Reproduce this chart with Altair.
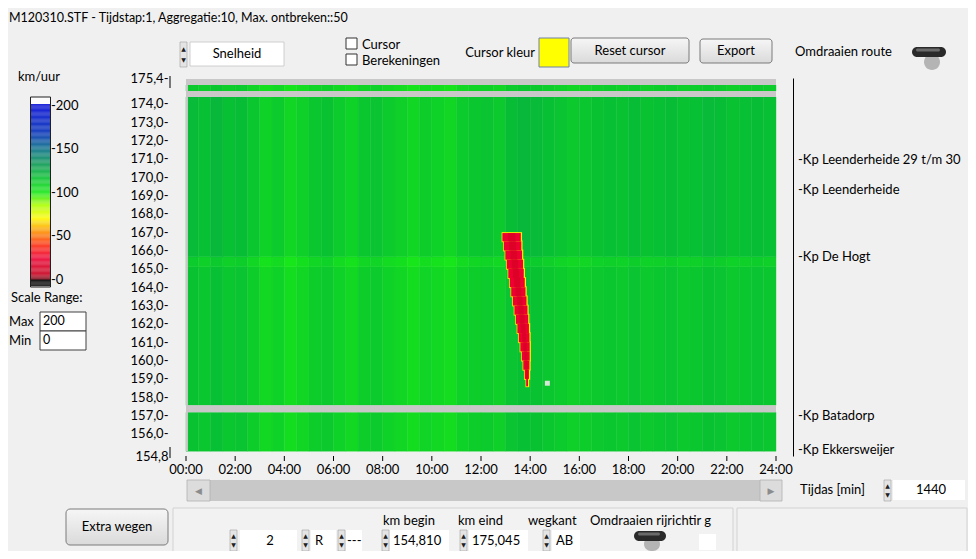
import altair as alt
import pandas as pd

# ---------------- values ----------------
TIME_BIN_START_H = [0.0, 0.5, 1.0, 1.5, 2.0, 2.5, 3.0, 3.5, 4.0, 4.5, 5.0, 5.5,
                    6.0, 6.5, 7.0, 7.5, 8.0, 8.5, 9.0, 9.5, 10.0, 10.5, 11.0, 11.5,
                    12.0, 12.5, 13.0, 13.5, 14.0, 14.5, 15.0, 15.5, 16.0, 16.5, 17.0, 17.5,
                    18.0, 18.5, 19.0, 19.5, 20.0, 20.5, 21.0, 21.5, 22.0, 22.5, 23.0, 23.5]
TIME_BIN_WIDTH_H = 0.5
STRIPE_SPEED = [117, 115, 118, 115, 116, 112, 107, 110, 105, 108,
                112, 114, 110, 107, 112, 113, 110, 108, 105, 109,
                107, 105, 110, 112, 113, 111, 116, 118, 117, 115,
                113, 111, 112, 114, 115, 114, 116, 114, 115, 116,
                114, 115, 117, 116, 114, 115, 116, 115]

BAND_KM_LO = [155.06, 157.56, 165.11, 165.66, 174.69]
BAND_KM_HI = [157.18, 165.11, 165.66, 174.37, 175.02]
BAND_SPEED_SHIFT = [0, 0, -4, 3, -3]

GAP_T0 = [0.0, 0.0, 0.0, 0.0]
GAP_T1 = [24.0, 24.0, 24.0, 0.08]
GAP_KM_LO = [157.18, 174.37, 175.02, 155.06]
GAP_KM_HI = [157.56, 174.69, 175.35, 175.35]

WEDGE_KM_HI = [166.95, 166.5, 166.0, 165.5, 165.0, 164.5, 164.0, 163.5, 163.0,
               162.5, 162.0, 161.5, 161.0, 160.5, 160.0, 159.5, 159.0]
WEDGE_KM_LO = [166.5, 166.0, 165.5, 165.0, 164.5, 164.0, 163.5, 163.0, 162.5,
               162.0, 161.5, 161.0, 160.5, 160.0, 159.5, 159.0, 158.6]
WEDGE_T0 = [12.87, 12.93, 12.99, 13.05, 13.11, 13.17, 13.23, 13.30, 13.36,
            13.42, 13.48, 13.54, 13.60, 13.66, 13.72, 13.78, 13.84]
WEDGE_T1 = [13.62, 13.64, 13.67, 13.71, 13.74, 13.78, 13.81, 13.85, 13.89,
            13.92, 13.95, 13.97, 13.98, 13.98, 13.97, 13.95, 13.91]
WEDGE_SPEED = 24
WEDGE_CORE_SPEED = 12
WEDGE_EDGE_SPEED = 68

MISSING_T0 = [14.6]
MISSING_T1 = [14.8]
MISSING_KM_LO = [158.63]
MISSING_KM_HI = [158.9]

LANDMARK_NAMES = ["-Kp Leenderheide 29 t/m 30", "-Kp Leenderheide", "-Kp De Hogt",
                  "-Kp Batadorp", "-Kp Ekkersweijer"]
LANDMARK_KM = [170.94, 169.30, 165.67, 156.96, 155.15]

Y_TICKS = [154.8, 156.0, 157.0, 158.0, 159.0, 160.0, 161.0, 162.0, 163.0, 164.0,
           165.0, 166.0, 167.0, 168.0, 169.0, 170.0, 171.0, 172.0, 173.0, 174.0, 175.4]
X_TICKS_H = [0, 2, 4, 6, 8, 10, 12, 14, 16, 18, 20, 22, 24]

CB_TICK_VALUES = [0, 50, 100, 150, 200]
CB_TICK_LABELS = ["-0", "-50", "-100", "-150", "-200"]
CB_STEPS = list(range(-7, 210))

SPEED_DOMAIN = [-10, -0.5, 0.5, 6, 25, 40, 55, 71, 86, 100, 118, 132, 150, 168, 201, 202, 260]
SPEED_COLORS = ["#000000", "#000000", "#700010", "#c8001e", "#f00032", "#ff3010", "#ff9000",
                "#ffff00", "#a8ff00", "#18e818", "#08c034", "#0a9a50", "#087088", "#0030b8",
                "#0008d8", "#ffffff", "#ffffff"]

# ---------------- tables ----------------
grid_rows = []
for b in range(len(BAND_KM_LO)):
    for i, t in enumerate(TIME_BIN_START_H):
        grid_rows.append(dict(t0=t, t1=t + TIME_BIN_WIDTH_H, km_lo=BAND_KM_LO[b],
                              km_hi=BAND_KM_HI[b], speed=STRIPE_SPEED[i] + BAND_SPEED_SHIFT[b]))
grid_df = pd.DataFrame(grid_rows)
gap_df = pd.DataFrame(dict(t0=GAP_T0, t1=GAP_T1, km_lo=GAP_KM_LO, km_hi=GAP_KM_HI))
wedge_df = pd.DataFrame(dict(t0=WEDGE_T0, t1=WEDGE_T1, km_lo=WEDGE_KM_LO, km_hi=WEDGE_KM_HI))
wedge_df["speed"] = WEDGE_SPEED
wedge_df["edge"] = WEDGE_EDGE_SPEED
wedge_df["core"] = WEDGE_CORE_SPEED
miss_df = pd.DataFrame(dict(t0=MISSING_T0, t1=MISSING_T1, km_lo=MISSING_KM_LO, km_hi=MISSING_KM_HI))
land_df = pd.DataFrame(dict(name=LANDMARK_NAMES, km=LANDMARK_KM))
xtick_df = pd.DataFrame(dict(h=X_TICKS_H))
cb_df = pd.DataFrame(dict(s=CB_STEPS))
cb_lab_df = pd.DataFrame(dict(v=CB_TICK_VALUES, lab=CB_TICK_LABELS))
DUMMY = pd.DataFrame(dict(a=[0]))

XS = alt.Scale(domain=[0, 24], nice=False, zero=False)
YS = alt.Scale(domain=[154.8, 175.4], nice=False, zero=False)
CS = alt.Scale(domain=SPEED_DOMAIN, range=SPEED_COLORS, interpolate="rgb")
CBY = alt.Scale(domain=[0, 200], range=[202, 27.7], nice=False, zero=False)

OX, OY = 186, 78
FONT = "Lato"


def rect(x0, y0, x1, y1, fill="#ffffff", stroke=None, sw=1.0, r=0, opacity=1.0, fill_opacity=1.0):
    kw = dict(fill=fill, cornerRadius=r, opacity=opacity, fillOpacity=fill_opacity)
    if stroke:
        kw.update(stroke=stroke, strokeWidth=sw)
    return alt.Chart(DUMMY).mark_rect(**kw).encode(
        x=alt.value(x0 - OX), x2=alt.value(x1 - OX), y=alt.value(y0 - OY), y2=alt.value(y1 - OY))


def text(x, y, s, size=13, align="left", color="#000000", font=FONT, weight="normal"):
    return alt.Chart(DUMMY).mark_text(align=align, baseline="middle", font=font, fontSize=size,
                                      color=color, fontWeight=weight).encode(
        x=alt.value(x - OX), y=alt.value(y - OY), text=alt.value(s))


def spinner(x, y0, y1):
    h = y1 - y0
    return [rect(x, y0, x + 7, y1, "#e4e4e4", "#a0a0a0", 0.6),
            text(x + 3.5, y0 + h * 0.28, "▲", 6, "center", "#202020", "DejaVu Sans"),
            text(x + 3.5, y0 + h * 0.72, "▼", 6, "center", "#202020", "DejaVu Sans")]


BTN = alt.LinearGradient(gradient="linear", x1=0, x2=0, y1=0, y2=1,
                         stops=[alt.GradientStop(color="#f6f6f6", offset=0),
                                alt.GradientStop(color="#dadada", offset=1)])

# ---------------- heatmap layers ----------------
grid = alt.Chart(grid_df).mark_rect(strokeWidth=0.4).encode(
    x=alt.X("t0:Q", scale=XS, axis=None),
    x2="t1:Q",
    y=alt.Y("km_lo:Q", scale=YS, title=None,
            axis=alt.Axis(orient="left", values=Y_TICKS,
                          labelExpr="datum.value < 155 ? '154,8' : replace(format(datum.value, '.1f'), '.', ',') + '-'",
                          ticks=False, tickSize=0, domain=False, grid=False, labelPadding=18,
                          labelFont=FONT, labelFontSize=13, labelColor="black", labelOverlap=False,
                          labelFlush=False)),
    y2="km_hi:Q",
    color=alt.Color("speed:Q", scale=CS, legend=None),
    stroke=alt.Stroke("speed:Q", scale=CS, legend=None),
)

gaps = alt.Chart(gap_df).mark_rect(color="#c9c7c7").encode(
    x=alt.X("t0:Q", scale=XS, axis=None), x2="t1:Q",
    y=alt.Y("km_lo:Q", scale=YS, axis=None), y2="km_hi:Q")

wedge_edge = alt.Chart(wedge_df).transform_calculate(
    e0="datum.t0 - 0.03", e1="datum.t1 + 0.05", k0="datum.km_lo - 0.05", k1="datum.km_hi + 0.05"
).mark_rect().encode(
    x=alt.X("e0:Q", scale=XS, axis=None), x2="e1:Q",
    y=alt.Y("k0:Q", scale=YS, axis=None), y2="k1:Q",
    color=alt.Color("edge:Q", scale=CS, legend=None))

wedge = alt.Chart(wedge_df).mark_rect().encode(
    x=alt.X("t0:Q", scale=XS, axis=None), x2="t1:Q",
    y=alt.Y("km_lo:Q", scale=YS, axis=None), y2="km_hi:Q",
    color=alt.Color("speed:Q", scale=CS, legend=None))

wedge_core = alt.Chart(wedge_df).transform_calculate(
    c0="datum.t0 + 0.3 * (datum.t1 - datum.t0)", c1="datum.t1 - 0.3 * (datum.t1 - datum.t0)"
).mark_rect(opacity=0.7).encode(
    x=alt.X("c0:Q", scale=XS, axis=None), x2="c1:Q",
    y=alt.Y("km_lo:Q", scale=YS, axis=None), y2="km_hi:Q",
    color=alt.Color("core:Q", scale=CS, legend=None))

missing = alt.Chart(miss_df).mark_rect(color="#d6e6d6").encode(
    x=alt.X("t0:Q", scale=XS, axis=None), x2="t1:Q",
    y=alt.Y("km_lo:Q", scale=YS, axis=None), y2="km_hi:Q")

# time axis drawn from the tick list through the x scale
xticks = alt.Chart(xtick_df).mark_rule(color="black", strokeWidth=1).encode(
    x=alt.X("h:Q", scale=XS, axis=None), y=alt.value(456 - OY), y2=alt.value(461 - OY))
xlabels = alt.Chart(xtick_df).transform_calculate(
    lab="(datum.h < 10 ? '0' : '') + datum.h + ':00'"
).mark_text(align="center", baseline="middle", font=FONT, fontSize=13, color="black").encode(
    x=alt.X("h:Q", scale=XS, axis=None), y=alt.value(470 - OY), text="lab:N")

landmarks = alt.Chart(land_df).mark_text(align="left", baseline="middle", font=FONT, fontSize=13,
                                         color="black").encode(
    x=alt.value(612),
    y=alt.Y("km:Q", scale=YS, title=None,
            axis=alt.Axis(orient="right", offset=17, domain=True, domainColor="black", domainWidth=1,
                          ticks=False, labels=False, grid=False)),
    text="name:N")

# ---------------- colour bar ----------------
cbar = alt.Chart(cb_df).transform_calculate(s2="datum.s + 1").mark_rect().encode(
    x=alt.value(31 - OX), x2=alt.value(50 - OX),
    y=alt.Y("s:Q", scale=CBY, axis=None), y2="s2:Q",
    color=alt.Color("s:Q", scale=CS, legend=None))
cbar_lab = alt.Chart(cb_lab_df).mark_text(align="left", baseline="middle", font=FONT, fontSize=13,
                                          color="black").encode(
    x=alt.value(51 - OX), y=alt.Y("v:Q", scale=CBY, axis=None), text="lab:N")

# ---------------- panel decoration ----------------
deco = []
deco.append(text(9, 18, "M120310.STF - Tijdstap:1, Aggregatie:10, Max. ontbreken::50", 12.5))
# Snelheid selector
deco += spinner(180, 42, 67)
deco.append(rect(190, 42, 284, 66, "#ffffff", "#c4c4c4", 0.8))
deco.append(text(237, 54, "Snelheid", 13, "center"))
# check boxes
deco.append(rect(346, 38, 357, 49, "#ffffff", "#333333", 1))
deco.append(rect(346, 54, 357, 65, "#ffffff", "#333333", 1))
deco.append(text(362, 45, "Cursor", 13))
deco.append(text(362, 61, "Berekeningen", 13))
deco.append(text(535, 53, "Cursor kleur", 13, "right"))
deco.append(rect(539, 38, 569, 67, "#ffff00", "#7080a8", 1))
deco.append(rect(571, 38, 689, 63, BTN, "#7a7a7a", 1, r=3))
deco.append(text(630, 51, "Reset cursor", 13, "center"))
deco.append(rect(700, 39, 772, 63, BTN, "#7a7a7a", 1, r=3))
deco.append(text(736, 51, "Export", 13, "center"))
deco.append(text(795, 52, "Omdraaien route", 13))
deco.append(rect(924, 54, 940, 70, "#9a9a9a", r=8, opacity=0.7))
deco.append(rect(912, 47, 946, 57, "#2a2a2a", r=5))
deco.append(rect(916, 48.5, 940, 51.5, "#7a7a7a", r=2, opacity=0.8))
# colour bar frame and captions
deco.append(text(18, 77, "km/uur", 13))
deco.append(rect(30.5, 97, 50.5, 287, "#ffffff", "#202020", 1, fill_opacity=0))
deco.append(text(11, 298, "Scale Range:", 13))
deco.append(text(9, 322, "Max", 13))
deco.append(rect(40, 312, 86, 331, "#ffffff", "#404040", 1))
deco.append(text(43, 321, "200", 12.5))
deco.append(text(9, 341, "Min", 13))
deco.append(rect(40, 331, 86, 350, "#ffffff", "#404040", 1))
deco.append(text(43, 340, "0", 12.5))
# short scale end lines
deco.append(rect(169.5, 76, 170.5, 88, "#000000"))
deco.append(rect(169.5, 447, 170.5, 458, "#000000"))
# scrollbar
deco.append(rect(187, 480, 782, 501, "#c8c8c8"))
deco.append(rect(187, 480, 210, 501, "#dcdcdc", "#b0b0b0", 0.8))
deco.append(text(198.5, 490.5, "◀", 9, "center", "#8c8c8c", "DejaVu Sans"))
deco.append(rect(760, 480, 782, 501, "#dcdcdc", "#b0b0b0", 0.8))
deco.append(text(771, 490.5, "▶", 9, "center", "#8c8c8c", "DejaVu Sans"))
deco.append(text(800, 490, "Tijdas [min]", 13))
deco += spinner(884, 480, 501)
deco.append(rect(893, 480, 965, 500, "#ffffff"))
deco.append(text(931, 490, "1440", 13, "center"))
# bottom panels
deco.append(rect(173, 508, 733, 575, "#f2f2f2", "#d2d2d2", 1))
deco.append(rect(737, 508, 967, 575, "#f2f2f2", "#d2d2d2", 1))
deco.append(rect(66, 509, 168, 545, BTN, "#7a7a7a", 1, r=4))
deco.append(text(117, 527, "Extra wegen", 13, "center"))
BY0, BY1, BT = 530, 551, 541
deco += spinner(230, BY0, BY1)
deco.append(rect(240, BY0, 297, BY1, "#ffffff"))
deco.append(text(270, BT, "2", 13, "center"))
deco += spinner(302, BY0, BY1)
deco.append(rect(311, BY0, 336, BY1, "#ffffff"))
deco.append(text(315, BT, "R", 13))
deco += spinner(338, BY0, BY1)
deco.append(rect(346, BY0, 362, BY1, "#ffffff"))
deco.append(text(347, BT, "---", 13))
deco.append(text(383, 521, "km begin", 13))
deco += spinner(382, BY0, BY1)
deco.append(rect(390, BY0, 449, BY1, "#ffffff"))
deco.append(text(393, BT, "154,810", 13))
deco.append(text(458, 521, "km eind", 13))
deco += spinner(460, BY0, BY1)
deco.append(rect(469, BY0, 528, BY1, "#ffffff"))
deco.append(text(472, BT, "175,045", 13))
deco.append(text(528, 521, "wegkant", 13))
deco += spinner(543, BY0, BY1)
deco.append(rect(552, BY0, 580, BY1, "#ffffff"))
deco.append(text(556, BT, "AB", 13))
deco.append(text(590, 521, "Omdraaien rijrichtir g", 13))
deco.append(rect(644, 537, 660, 551, "#9a9a9a", r=7, opacity=0.7))
deco.append(rect(634, 531, 666, 541, "#2a2a2a", r=5))
deco.append(rect(638, 532.5, 660, 535.5, "#7a7a7a", r=2, opacity=0.8))
deco.append(rect(699, 534, 716, 550, "#ffffff"))

layers = [grid, gaps, wedge_edge, wedge, wedge_core, missing, xticks, xlabels, landmarks,
          cbar, cbar_lab] + deco

chart = alt.layer(*layers).resolve_scale(y="independent").properties(
    width=590, height=378,
    padding={"left": 178, "top": 70, "right": 192, "bottom": 95},
    autosize=alt.AutoSizeParams(type="none"),
    background="#f0f0f0",
).configure_view(stroke=None)

chart.save("out.html", embed_options={"renderer": "svg", "actions": False})
